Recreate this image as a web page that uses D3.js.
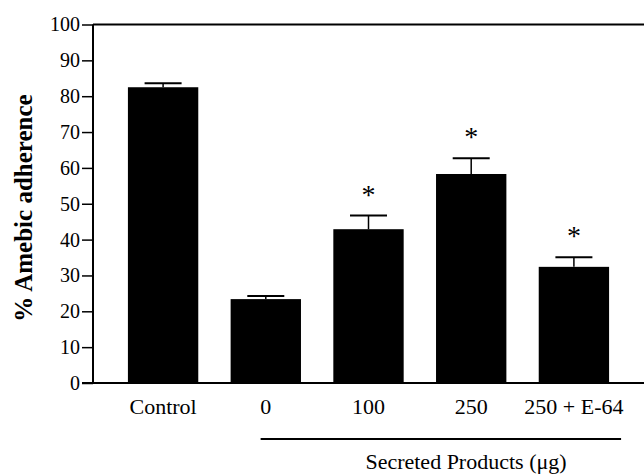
<!DOCTYPE html>
<html>
<head>
<meta charset="utf-8">
<script src="https://cdn.jsdelivr.net/npm/d3@7"></script>
<style>
    body { margin: 0; background: #fff; }
    text { font-family: "Liberation Serif", "Times New Roman", serif; fill: #000; }
</style>
</head>
<body>
<div id="chart"></div>
<script>
var categories = ["Control", "0", "100", "250", "250 + E-64"];
var adherence = [82.5, 23.4, 42.9, 58.3, 32.4];
var errorTop = [83.6, 24.3, 46.7, 62.7, 35.1];
var significant = [false, false, true, true, true];
var yTicks = [0, 10, 20, 30, 40, 50, 60, 70, 80, 90, 100];

var width = 644, height = 474;
var plotLeft = 93, plotRight = 644, plotTop = 24.5, plotBottom = 383;

var svg = d3.select("#chart")
    .append("svg")
    .attr("width", width)
    .attr("height", height);

var x = d3.scaleBand()
    .domain(categories)
    .range([plotLeft, plotRight])
    .paddingInner(0.315)
    .paddingOuter(0.34);

var y = d3.scaleLinear()
    .domain([0, 100])
    .range([plotBottom, plotTop]);

// bars
svg.append("g")
    .selectAll("rect")
    .data(categories)
    .enter().append("rect")
    .attr("x", function (d) { return x(d); })
    .attr("y", function (d, i) { return y(adherence[i]); })
    .attr("width", x.bandwidth())
    .attr("height", function (d, i) { return y(0) - y(adherence[i]); })
    .attr("fill", "#000");

// error bars (upper only)
var err = svg.append("g")
    .selectAll("g")
    .data(categories)
    .enter().append("g");

err.append("line")
    .attr("x1", function (d) { return x(d) + x.bandwidth() / 2; })
    .attr("x2", function (d) { return x(d) + x.bandwidth() / 2; })
    .attr("y1", function (d, i) { return y(adherence[i]); })
    .attr("y2", function (d, i) { return y(errorTop[i]); })
    .attr("stroke", "#000")
    .attr("stroke-width", 1.5);

err.append("line")
    .attr("x1", function (d) { return x(d) + x.bandwidth() / 2 - 18.5; })
    .attr("x2", function (d) { return x(d) + x.bandwidth() / 2 + 18.5; })
    .attr("y1", function (d, i) { return y(errorTop[i]); })
    .attr("y2", function (d, i) { return y(errorTop[i]); })
    .attr("stroke", "#000")
    .attr("stroke-width", 2);

// asterisks
svg.append("g")
    .selectAll("text")
    .data(categories.filter(function (d, i) { return significant[i]; }))
    .enter().append("text")
    .attr("x", function (d) { return x(d) + x.bandwidth() / 2; })
    .attr("y", function (d) { return y(errorTop[categories.indexOf(d)]) - 12; })
    .attr("text-anchor", "middle")
    .style("font-size", "28px")
    .text("*");

// y axis
var yAxis = svg.append("g")
    .attr("transform", "translate(" + plotLeft + ",0)")
    .call(d3.axisLeft(y).tickValues(yTicks).tickSize(11).tickPadding(2));

yAxis.select(".domain").remove();
yAxis.selectAll(".tick line").attr("stroke", "#000").attr("stroke-width", 1.5);
yAxis.selectAll("text").style("font-size", "20px");

svg.append("line")
    .attr("x1", plotLeft).attr("x2", plotLeft)
    .attr("y1", plotBottom).attr("y2", plotTop)
    .attr("stroke", "#000").attr("stroke-width", 2);

// top border and x axis line
svg.append("line")
    .attr("x1", plotLeft).attr("x2", plotRight)
    .attr("y1", plotTop).attr("y2", plotTop)
    .attr("stroke", "#000").attr("stroke-width", 2);

svg.append("line")
    .attr("x1", plotLeft - 11).attr("x2", plotRight)
    .attr("y1", plotBottom).attr("y2", plotBottom)
    .attr("stroke", "#000").attr("stroke-width", 2);

// category labels
svg.append("g")
    .selectAll("text")
    .data(categories)
    .enter().append("text")
    .attr("x", function (d) { return x(d) + x.bandwidth() / 2; })
    .attr("y", 414)
    .attr("text-anchor", "middle")
    .style("font-size", "22px")
    .text(function (d) { return d; });

// bracket under secreted products
svg.append("line")
    .attr("x1", x(categories[1]) + 30)
    .attr("x2", x(categories[4]) + x.bandwidth() + 12)
    .attr("y1", 439).attr("y2", 439)
    .attr("stroke", "#000").attr("stroke-width", 2);

svg.append("text")
    .attr("x", 466)
    .attr("y", 469)
    .attr("text-anchor", "middle")
    .style("font-size", "22px")
    .text("Secreted Products (\u03bcg)");

// y axis title
svg.append("text")
    .attr("transform", "rotate(-90)")
    .attr("x", -208)
    .attr("y", 32)
    .attr("text-anchor", "middle")
    .style("font-size", "25px")
    .style("font-weight", "bold")
    .text("% Amebic adherence");
</script>
</body>
</html>
